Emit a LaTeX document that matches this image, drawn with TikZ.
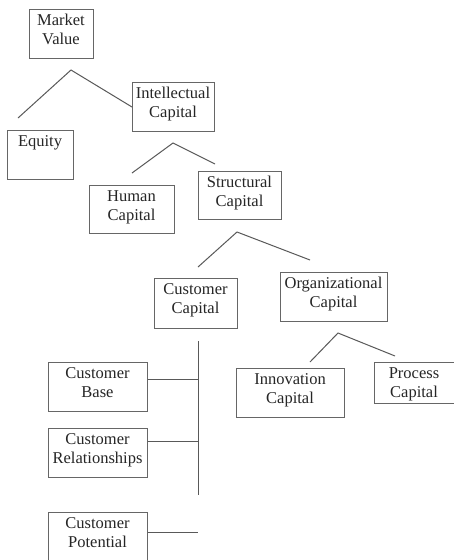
\documentclass[tikz,border=0pt]{standalone}
\usepackage{fontspec}
\setmainfont{Liberation Serif}
\begin{document}
\begin{tikzpicture}[x=1pt,y=-1pt,
  box/.style={draw=black!60, line width=1pt, inner sep=0pt, fill=white},
  lbl/.style={anchor=north, align=center, inner sep=5.5pt, font=\fontsize{16.5}{19}\selectfont, text=black!85},
  conn/.style={draw=black!65, line width=1pt}]
\useasboundingbox (0,0) rectangle (454,560);
\fill[white] (0,0) rectangle (454,560);
% boxes
\node[box, minimum width=64pt, minimum height=49pt, label={[lbl]north:Market\\Value}] (mv) at (61,33.5) {};
\node[box, minimum width=82pt, minimum height=49pt, label={[lbl]north:Intellectual\\Capital}] (ic) at (173,106.5) {};
\node[box, minimum width=66pt, minimum height=49pt, label={[lbl]north:Equity}] (eq) at (40,154.5) {};
\node[box, minimum width=85pt, minimum height=48pt, label={[lbl]north:Human\\Capital}] (hc) at (131.5,209) {};
\node[box, minimum width=83pt, minimum height=48pt, label={[lbl]north:Structural\\Capital}] (sc) at (239.5,195) {};
\node[box, minimum width=83pt, minimum height=50pt, label={[lbl]north:Customer\\Capital}] (cc) at (195.5,303) {};
\node[box, minimum width=107pt, minimum height=49pt, label={[lbl]north:Organizational\\Capital}] (oc) at (333.5,296.5) {};
\node[box, minimum width=99pt, minimum height=49pt, label={[lbl]north:Customer\\Base}] (cb) at (97.5,386.5) {};
\node[box, minimum width=99pt, minimum height=49pt, label={[lbl]north:Customer\\Relationships}] (cr) at (97.5,452.5) {};
\node[box, minimum width=99pt, minimum height=48pt, label={[lbl]north:Customer\\Potential}] (cp) at (97.5,536) {};
\node[box, minimum width=108pt, minimum height=49pt, label={[lbl]north:Innovation\\Capital}] (inn) at (290,392.5) {};
\node[box, minimum width=80pt, minimum height=41pt, label={[lbl]north:Process\\Capital}] (pc) at (414,382.5) {};
% peak connectors
\coordinate (mvl) at (18,118); \coordinate (mvp) at (71,70); \coordinate (mvr) at (132,107);
\draw[conn] (mvl) -- (mvp) -- (mvr);
\coordinate (icl) at (132,173); \coordinate (icp) at (173,143); \coordinate (icr) at (215,164);
\draw[conn] (icl) -- (icp) -- (icr);
\coordinate (scl) at (198,267); \coordinate (scp) at (237,232); \coordinate (scr) at (310,260);
\draw[conn] (scl) -- (scp) -- (scr);
\coordinate (ocl) at (310,362); \coordinate (ocp) at (338,333); \coordinate (ocr) at (395,356);
\draw[conn] (ocl) -- (ocp) -- (ocr);
% customer capital tree
\coordinate (vtop) at (198,341); \coordinate (vbot) at (198,495);
\draw[conn] (vtop) -- (vbot);
\draw[conn] ([yshift=7.5pt]cb.east) -- ([yshift=7.5pt]cb.east -| vtop);
\draw[conn] ([yshift=11.5pt]cr.east) -- ([yshift=11.5pt]cr.east -| vtop);
\draw[conn] ([yshift=4pt]cp.east) -- ([yshift=4pt]cp.east -| vtop);
\end{tikzpicture}
\end{document}
